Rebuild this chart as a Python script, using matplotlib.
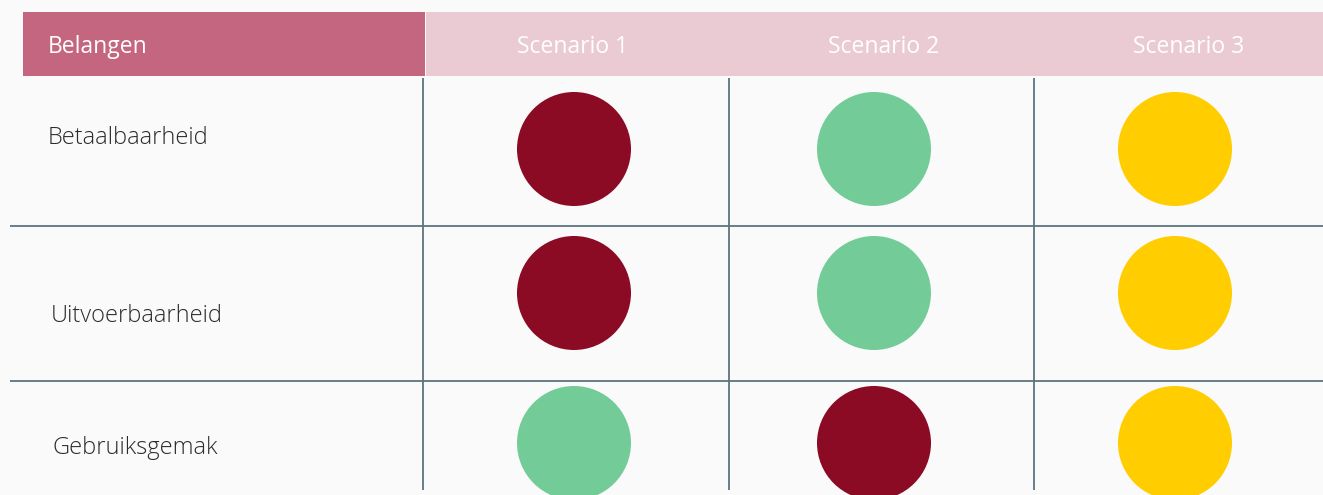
import matplotlib
matplotlib.use("Agg")
import matplotlib.pyplot as plt
from matplotlib.patches import Circle, Rectangle

# data
header_label = "Belangen"
scenarios = ["Scenario 1", "Scenario 2", "Scenario 3"]
belangen = ["Betaalbaarheid", "Uitvoerbaarheid", "Gebruiksgemak"]
# rating per belang per scenario: "slecht", "goed", "neutraal"
ratings = [
    ["slecht", "goed", "neutraal"],
    ["slecht", "goed", "neutraal"],
    ["goed", "slecht", "neutraal"],
]

rating_colors = {"slecht": "#8b0a24", "goed": "#73cc98", "neutraal": "#ffcd00"}

W, H = 1323, 495
fig = plt.figure(figsize=(W / 100, H / 100), dpi=100)
fig.patch.set_facecolor("#fafafa")
ax = fig.add_axes([0, 0, 1, 1])
ax.set_xlim(0, W)
ax.set_ylim(H, 0)
ax.set_aspect("equal")
ax.axis("off")

plt.rcParams["font.family"] = ["Open Sans", "DejaVu Sans"]

# header band
ax.add_patch(Rectangle((23, 12), 402, 64, color="#c4667f", lw=0))
ax.add_patch(Rectangle((426, 12), W - 426, 64, color="#ebcbd3", lw=0))
ax.text(48, 53, header_label, color="white", fontsize=16.5, va="baseline", ha="left")

col_x = [574, 874, 1175]
head_x = [573, 884, 1189]
row_y = [149, 293, 443]
label_y = [144, 322, 454]
label_x = [48, 51, 52]
for x, s in zip(head_x, scenarios):
    ax.text(x, 53, s, color="white", fontsize=16.5, va="baseline", ha="center")

# grid lines
line_c = "#5b7480"
for x in [423, 729, 1034]:
    ax.plot([x, x], [78, 490], color=line_c, lw=1.3, solid_capstyle="butt")
for y in [226, 381]:
    ax.plot([10, W], [y, y], color=line_c, lw=1.3, solid_capstyle="butt")

for i, name in enumerate(belangen):
    ax.text(label_x[i], label_y[i], name, color="#2b2b2b", fontsize=17,
            fontweight="light", va="baseline", ha="left")
    for j, r in enumerate(ratings[i]):
        ax.add_patch(Circle((col_x[j], row_y[i]), 57, color=rating_colors[r], lw=0))

fig.savefig("out.png", dpi=100, facecolor=fig.get_facecolor())
